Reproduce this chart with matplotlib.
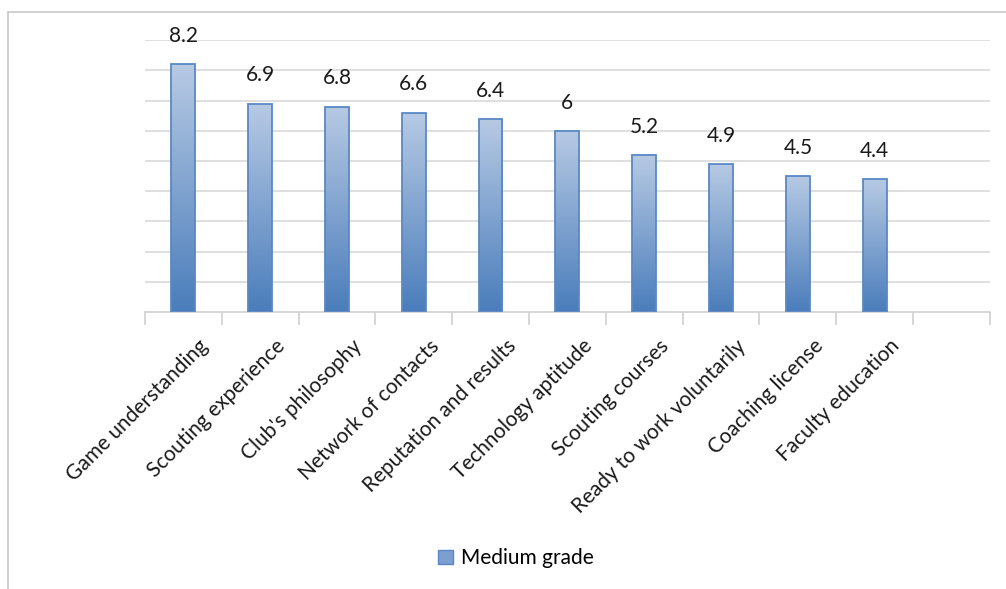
from matplotlib import pyplot as plt
from matplotlib.colors import LinearSegmentedColormap
from matplotlib.patches import Rectangle
from matplotlib.lines import Line2D
import matplotlib.transforms as mtransforms
import numpy as np

categories = ["Game understanding", "Scouting experience", "Club's philosophy",
              "Network of contacts", "Reputation and results", "Technology aptitude",
              "Scouting courses", "Ready to work voluntarily", "Coaching license",
              "Faculty education"]
grades = [8.2, 6.9, 6.8, 6.6, 6.4, 6.0, 5.2, 4.9, 4.5, 4.4]
grade_labels = ["8.2", "6.9", "6.8", "6.6", "6.4", "6", "5.2", "4.9", "4.5", "4.4"]

plt.rcParams['font.family'] = ['Lato', 'DejaVu Sans']

fig = plt.figure(figsize=(10.06, 5.89), dpi=100)
ax = fig.add_axes([0.144, 0.470, 0.840, 0.462])

# gradient from dark blue (bottom) to light blue (top)
cmap = LinearSegmentedColormap.from_list("bar", ["#4a7dbb", "#b7cae4"])
grad = np.linspace(0, 1, 256).reshape(-1, 1)

x = np.arange(len(categories))
bars = ax.bar(x, grades, width=0.31, color="none", edgecolor="#5a88c4",
              linewidth=1.3, zorder=3)
for b in bars:
    x0, y0 = b.get_x(), b.get_y()
    w, h = b.get_width(), b.get_height()
    im = ax.imshow(grad, cmap=cmap, aspect="auto", origin="lower",
                   extent=[x0, x0 + w, y0, y0 + h], zorder=2)
    im.set_clip_path(Rectangle((x0, y0), w, h, transform=ax.transData))

for xi, v, lab in zip(x, grades, grade_labels):
    ax.text(xi, v + 0.6, lab, ha="center", va="bottom", fontsize=15, color="#1a1a1a")

ax.set_xlim(-0.5, 10.5)
ax.set_ylim(0, 9)
ax.set_yticks(np.arange(1, 10))
ax.yaxis.grid(True, color="#d9d9d9", linewidth=1.2, zorder=0)
ax.set_axisbelow(True)
ax.tick_params(axis="y", left=False, labelleft=False)

ax.set_xticks(x)
ax.set_xticklabels(categories, rotation=45, ha="right", rotation_mode="anchor",
                   fontsize=15, color="#1a1a1a")
ax.tick_params(axis="x", which="major", length=0, pad=17)
shift = mtransforms.ScaledTranslation(0.15, 0, fig.dpi_scale_trans)
for lab in ax.get_xticklabels():
    lab.set_transform(lab.get_transform() + shift)
ax.set_xticks(np.arange(-0.5, 11, 1), minor=True)
ax.tick_params(axis="x", which="minor", length=9, color="#d0d0d0", width=1.2)

for s in ["top", "right", "left"]:
    ax.spines[s].set_visible(False)
ax.spines["bottom"].set_color("#d0d0d0")
ax.spines["bottom"].set_linewidth(1.2)

# legend
handle = Rectangle((0, 0), 1, 1, facecolor="#7b9fd0", edgecolor="#5a88c4")
fig.legend([handle], ["Medium grade"], loc="center", bbox_to_anchor=(0.513, 0.052),
           frameon=False, fontsize=15, handlelength=0.7, handleheight=0.7,
           handletextpad=0.4)

# outer chart frame (top and left visible)
fig.add_artist(Line2D([0.008, 1.0], [0.979, 0.979], color="#c8c8c8", linewidth=1.2,
                      transform=fig.transFigure))
fig.add_artist(Line2D([0.008, 0.008], [0.0, 0.979], color="#c8c8c8", linewidth=1.2,
                      transform=fig.transFigure))

fig.savefig("out.png", dpi=100)
